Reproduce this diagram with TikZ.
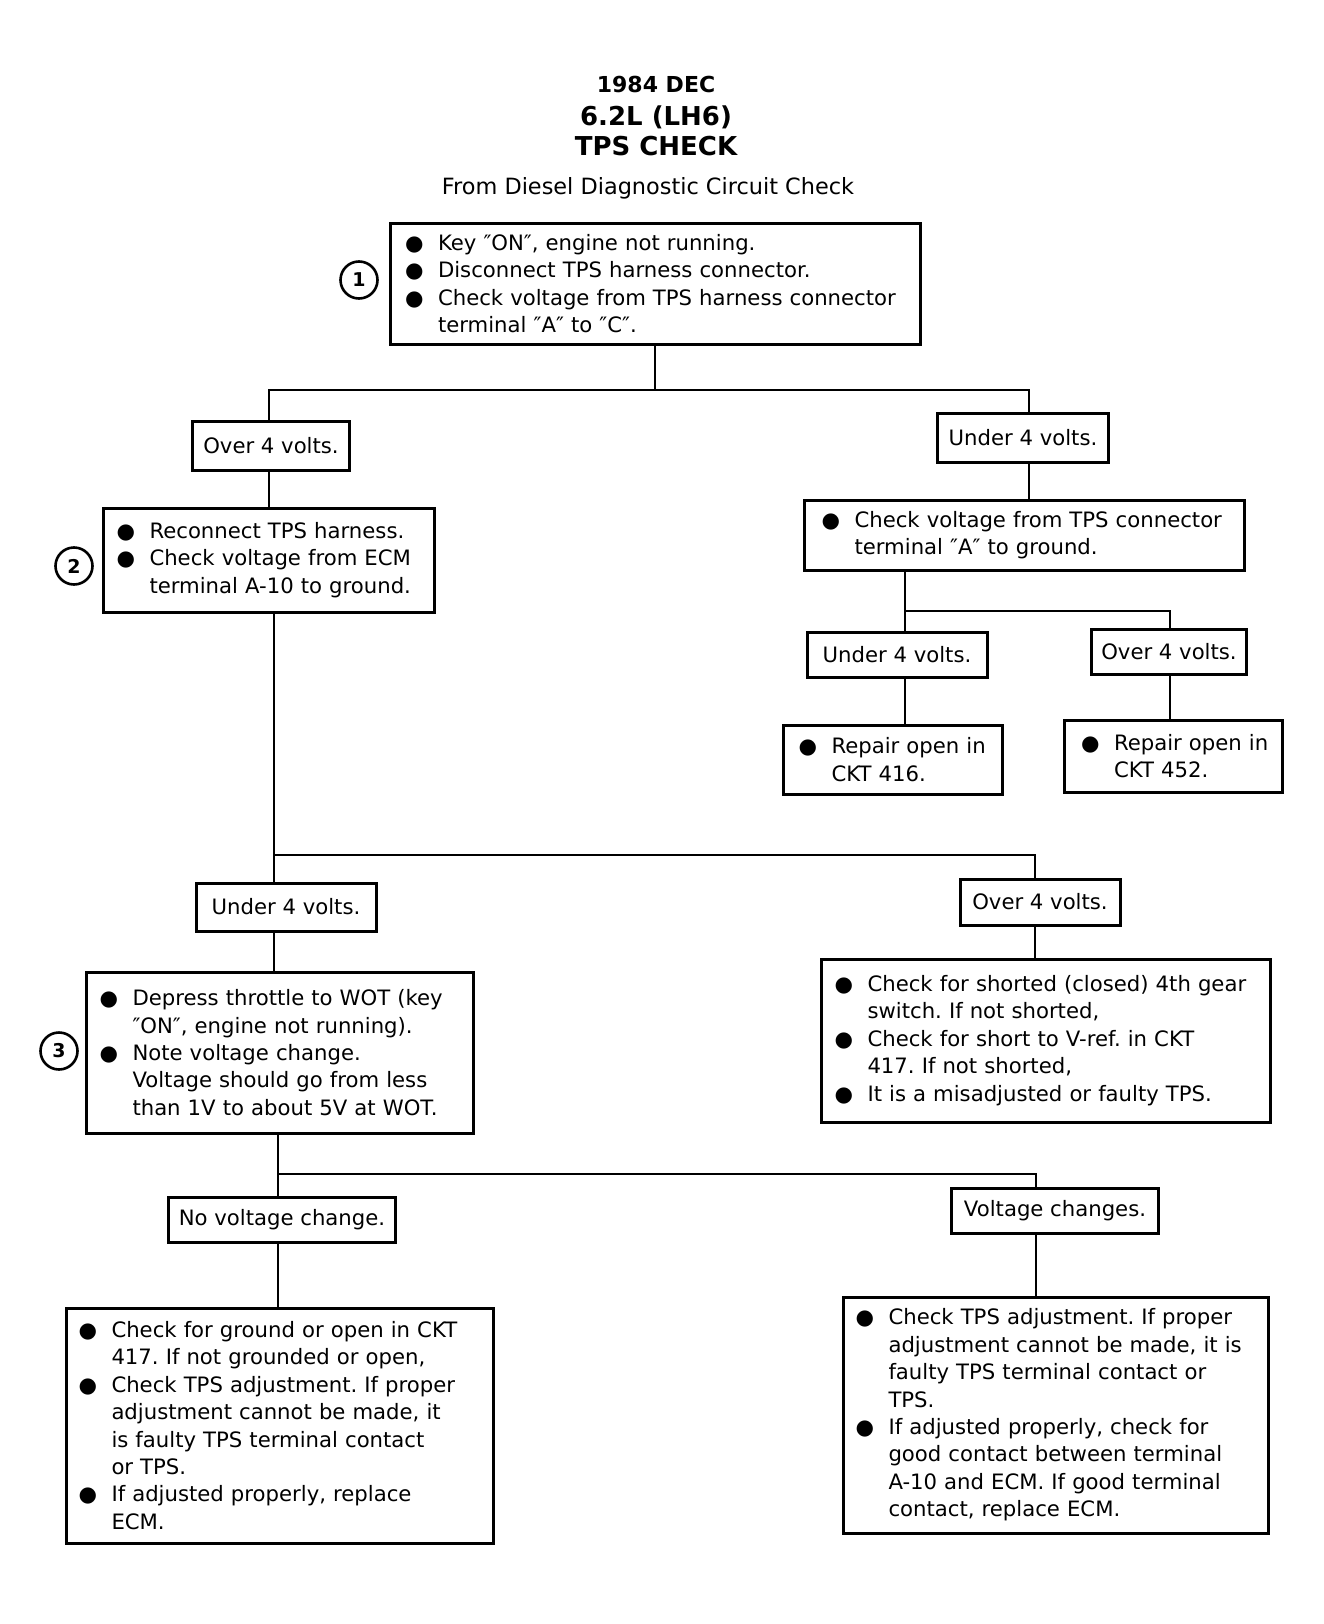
\documentclass[tikz,border=0pt]{standalone}
\usepackage{fontspec}
\setmainfont{DejaVu Sans}
\usetikzlibrary{positioning}
\frenchspacing

\newcommand{\bln}[1]{\mbox{\makebox[27pt][l]{\hspace*{-6pt}●}#1}}
\newcommand{\iln}[1]{\mbox{\hspace*{27pt}#1}}

\tikzset{
	box/.style={draw, line width=3pt, inner sep=0pt, align=left, font=\fontsize{21.2}{27.4}\selectfont},
	tag/.style={draw, line width=3pt, inner sep=0pt, font=\fontsize{21.2}{26}\selectfont},
	wire/.style={line width=2.8pt},
	num/.style={draw, circle, line width=2.6pt, minimum size=37pt, inner sep=0pt, font=\bfseries\fontsize{19}{19}\selectfont}
}

\begin{document}
\begin{tikzpicture}[x=1pt, y=-1pt]
	\useasboundingbox (0,0) rectangle (1323,1624);
	\node[anchor=base, font=\bfseries\fontsize{22}{22}\selectfont] (year) at (656,93) {1984 DEC};
	\node[anchor=base, font=\bfseries\fontsize{26}{26}\selectfont] (engine) at (656,126) {6.2L (LH6)};
	\node[anchor=base, font=\bfseries\fontsize{26}{26}\selectfont] (title) at (656,156) {TPS CHECK};
	\node[anchor=base, font=\fontsize{22.4}{23}\selectfont] (from) at (648,194) {From Diesel Diagnostic Circuit Check};

	\node[box, minimum width=530pt, minimum height=121pt, text width=488pt] (key) at (655,283.5) {\bln{Key ″ON″, engine not running.}\\
		\bln{Disconnect TPS harness connector.}\\
		\bln{Check voltage from TPS harness connector}\\
		\iln{terminal ″A″ to ″C″.}};
	\node[num] (n1) at (359,280) {1};

	\node[tag, minimum width=157pt, minimum height=49pt] (over1) at (271,445.5) {Over 4 volts.};
	\node[tag, minimum width=171pt, minimum height=49pt] (under1) at (1023,437.5) {Under 4 volts.};

	\node[box, minimum width=331pt, minimum height=104pt, text width=293pt] (recon) at (269,560) {\bln{Reconnect TPS harness.}\\
		\bln{Check voltage from ECM}\\
		\iln{terminal A-10 to ground.}};
	\node[num] (n2) at (74,566) {2};

	\node[box, minimum width=440pt, minimum height=70pt, text width=394pt] (tpsa) at (1024.5,535) {\bln{Check voltage from TPS connector}\\
		\iln{terminal ″A″ to ground.}};

	\node[tag, minimum width=180pt, minimum height=45pt] (under2) at (897,654.5) {Under 4 volts.};
	\node[tag, minimum width=155pt, minimum height=45pt] (over2) at (1169,651.5) {Over 4 volts.};
	\node[box, minimum width=219pt, minimum height=69pt, text width=177pt] (open416) at (893,759.5) {\bln{Repair open in}\\
		\iln{CKT 416.}};
	\node[box, minimum width=218pt, minimum height=72pt, text width=172pt] (open452) at (1173,756) {\bln{Repair open in}\\
		\iln{CKT 452.}};

	\node[tag, minimum width=180pt, minimum height=48pt] (under3) at (286,907) {Under 4 volts.};
	\node[tag, minimum width=160pt, minimum height=46pt] (over3) at (1040,902) {Over 4 volts.};

	\node[box, minimum width=387pt, minimum height=161pt, text width=349pt] (wot) at (280,1052.5) {\bln{Depress throttle to WOT (key}\\
		\iln{″ON″, engine not running).}\\
		\bln{Note voltage change.}\\
		\iln{Voltage should go from less}\\
		\iln{than 1V to about 5V at WOT.}};
	\node[num] (n3) at (59,1051) {3};

	\node[box, minimum width=449pt, minimum height=163pt, text width=411pt] (short) at (1046,1040.5) {\bln{Check for shorted (closed) 4th gear}\\
		\iln{switch. If not shorted,}\\
		\bln{Check for short to V-ref. in CKT}\\
		\iln{417. If not shorted,}\\
		\bln{It is a misadjusted or faulty TPS.}};

	\node[tag, minimum width=227pt, minimum height=45pt] (nochg) at (282,1219.5) {No voltage change.};
	\node[tag, minimum width=207pt, minimum height=45pt] (chg) at (1055,1210.5) {Voltage changes.};

	\node[box, minimum width=427pt, minimum height=235pt, text width=391pt] (gnd) at (280,1425.5) {\bln{Check for ground or open in CKT}\\
		\iln{417. If not grounded or open,}\\
		\bln{Check TPS adjustment. If proper}\\
		\iln{adjustment cannot be made, it}\\
		\iln{is faulty TPS terminal contact}\\
		\iln{or TPS.}\\
		\bln{If adjusted properly, replace}\\
		\iln{ECM.}};
	\node[box, minimum width=425pt, minimum height=236pt, text width=389pt] (adj) at (1056,1415) {\bln{Check TPS adjustment. If proper}\\
		\iln{adjustment cannot be made, it is}\\
		\iln{faulty TPS terminal contact or}\\
		\iln{TPS.}\\
		\bln{If adjusted properly, check for}\\
		\iln{good contact between terminal}\\
		\iln{A-10 and ECM. If good terminal}\\
		\iln{contact, replace ECM.}};

	\coordinate (jal) at (269,390);
	\coordinate (jar) at (1029,390);
	\coordinate (jbl) at (905,611);
	\coordinate (jbr) at (1170,611);
	\coordinate (jcl) at (274,855);
	\coordinate (jcr) at (1035,855);
	\coordinate (jdl) at (278,1174);
	\coordinate (jdr) at (1036,1174);

	\draw[wire] (key.south) -- (key.south |- jal);
	\draw[wire] (jal |- over1.north) -- (jal) -- (jar) -- (jar |- under1.north);
	\draw[wire] (jal |- over1.south) -- (jal |- recon.north);
	\draw[wire] (jar |- under1.south) -- (jar |- tpsa.north);

	\draw[wire] (jbl |- tpsa.south) -- (jbl |- under2.north);
	\draw[wire] (jbl) -- (jbr) -- (jbr |- over2.north);
	\draw[wire] (jbl |- under2.south) -- (jbl |- open416.north);
	\draw[wire] (jbr |- over2.south) -- (jbr |- open452.north);

	\draw[wire] (jcl |- recon.south) -- (jcl |- under3.north);
	\draw[wire] (jcl) -- (jcr) -- (jcr |- over3.north);
	\draw[wire] (jcl |- under3.south) -- (jcl |- wot.north);
	\draw[wire] (jcr |- over3.south) -- (jcr |- short.north);

	\draw[wire] (jdl |- wot.south) -- (jdl |- nochg.north);
	\draw[wire] (jdl) -- (jdr) -- (jdr |- chg.north);
	\draw[wire] (jdl |- nochg.south) -- (jdl |- gnd.north);
	\draw[wire] (jdr |- chg.south) -- (jdr |- adj.north);
\end{tikzpicture}
\end{document}
